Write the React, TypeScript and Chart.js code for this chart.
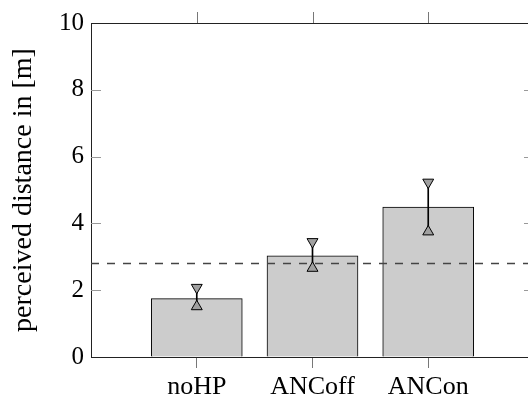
import React, { useEffect, useRef } from "react";
import { Chart, registerables } from "chart.js";

Chart.register(...registerables);

// ---- data ----
const categories = ["noHP", "ANCoff", "ANCon"];
const categoryPositions = [1, 2, 3];
const meanValues = [1.75, 3.03, 4.49];
const errLow = [1.51, 2.66, 3.75];
const errHigh = [2.08, 3.45, 5.23];
const referenceDistance = 2.8;
const yTicks = [0, 2, 4, 6, 8, 10];
const X_MIN = 0.086;
const X_MAX = 3.914;
const Y_MIN = 0;
const Y_MAX = 10;

const FONT = "'Liberation Serif', 'DejaVu Serif', serif";
const CANVAS_W = 545;
const CANVAS_H = 400;

const framePlugin = {
  id: "frame",
  afterDraw(chart: any) {
    const { ctx, chartArea } = chart;
    const { left, right, top, bottom } = chartArea;
    const ys = chart.scales.y;
    const xs = chart.scales.x;
    ctx.save();
    ctx.strokeStyle = "#222";
    ctx.lineWidth = 1;
    ctx.beginPath();
    ctx.moveTo(left, Math.round(top) + 0.5);
    ctx.lineTo(right, Math.round(top) + 0.5);
    ctx.moveTo(Math.round(right) + 0.5, top);
    ctx.lineTo(Math.round(right) + 0.5, bottom);
    ctx.stroke();
    ctx.strokeStyle = "#999";
    ctx.beginPath();
    yTicks.forEach((v) => {
      if (v === Y_MIN || v === Y_MAX) return;
      const py = Math.round(ys.getPixelForValue(v)) + 0.5;
      ctx.moveTo(left, py);
      ctx.lineTo(left + 10, py);
      ctx.moveTo(right - 10, py);
      ctx.lineTo(right, py);
    });
    ctx.stroke();
    ctx.strokeStyle = "#777";
    ctx.beginPath();
    categoryPositions.forEach((v) => {
      const px = Math.round(xs.getPixelForValue(v)) + 0.5;
      ctx.moveTo(px, top);
      ctx.lineTo(px, top - 11);
    });
    ctx.stroke();
    ctx.restore();
  },
};

export default function App() {
  const ref = useRef<HTMLCanvasElement | null>(null);

  useEffect(() => {
    if (!ref.current) return;
    const barData = categoryPositions.map((x, i) => ({ x, y: meanValues[i] }));
    const errData = categoryPositions.map((x, i) => ({ x, y: [errLow[i], errHigh[i]] }));
    const lowData = categoryPositions.map((x, i) => ({ x, y: errLow[i] }));
    const highData = categoryPositions.map((x, i) => ({ x, y: errHigh[i] }));

    const chart = new Chart(ref.current, {
      type: "bar",
      data: {
        datasets: [
          {
            type: "scatter",
            data: lowData,
            pointStyle: "triangle",
            rotation: 0,
            pointRadius: 6.3,
            pointHoverRadius: 6.3,
            backgroundColor: "#a0a0a0",
            borderColor: "#000",
            borderWidth: 1,
            order: 0,
          } as any,
          {
            type: "scatter",
            data: highData,
            pointStyle: "triangle",
            rotation: 180,
            pointRadius: 6.3,
            pointHoverRadius: 6.3,
            backgroundColor: "#a0a0a0",
            borderColor: "#000",
            borderWidth: 1,
            order: 1,
          } as any,
          {
            type: "bar",
            data: errData,
            backgroundColor: "#000",
            borderWidth: 0,
            barThickness: 1,
            grouped: false,
            order: 2,
          } as any,
          {
            type: "line",
            data: [
              { x: X_MIN, y: referenceDistance },
              { x: X_MAX, y: referenceDistance },
            ],
            borderColor: "#444",
            borderWidth: 1.5,
            borderDash: [8, 8],
            pointRadius: 0,
            fill: false,
            order: 3,
          } as any,
          {
            type: "bar",
            data: barData,
            backgroundColor: "#cccccc",
            borderColor: "#000",
            borderWidth: 1,
            barThickness: 91,
            grouped: false,
            order: 4,
          } as any,
        ],
      },
      options: {
        responsive: false,
        devicePixelRatio: 1,
        animation: false,
        events: [],
        layout: { padding: { top: 23, right: CANVAS_W - 534, left: 0, bottom: 0 } },
        plugins: { legend: { display: false }, tooltip: { enabled: false } },
        scales: {
          x: {
            type: "linear",
            min: X_MIN,
            max: X_MAX,
            offset: false,
            afterFit: (s: any) => {
              s.height = CANVAS_H - 357;
            },
            afterBuildTicks: (s: any) => {
              s.ticks = categoryPositions.map((v) => ({ value: v }));
            },
            ticks: {
              autoSkip: false,
              maxRotation: 0,
              padding: 4,
              color: "#000",
              font: { family: FONT, size: 26 },
              callback: (v: any) => {
                const i = categoryPositions.indexOf(Number(v));
                return i >= 0 ? categories[i] : "";
              },
            },
            grid: {
              offset: false,
              drawOnChartArea: false,
              drawTicks: true,
              tickLength: 11,
              color: "#777",
            },
            border: { display: true, color: "#222", width: 1 },
          },
          y: {
            type: "linear",
            min: Y_MIN,
            max: Y_MAX,
            afterFit: (s: any) => {
              s.width = 91;
            },
            afterBuildTicks: (s: any) => {
              s.ticks = yTicks.map((v) => ({ value: v }));
            },
            ticks: {
              padding: 7,
              color: "#000",
              font: { family: FONT, size: 25 },
            },
            grid: { drawOnChartArea: false, drawTicks: false },
            border: { display: true, color: "#222", width: 1 },
            title: {
              display: true,
              text: "perceived distance in [m]",
              color: "#000",
              font: { family: FONT, size: 28 },
              padding: { top: 7, bottom: 0 },
            },
          },
        },
      },
      plugins: [framePlugin],
    } as any);
    return () => chart.destroy();
  }, []);

  return (
    <div
      style={{
        position: "fixed",
        left: 0,
        top: 0,
        width: 528,
        height: 400,
        overflow: "hidden",
        background: "#fff",
      }}
    >
      <canvas ref={ref} width={CANVAS_W} height={CANVAS_H} style={{ display: "block" }} />
    </div>
  );
}
